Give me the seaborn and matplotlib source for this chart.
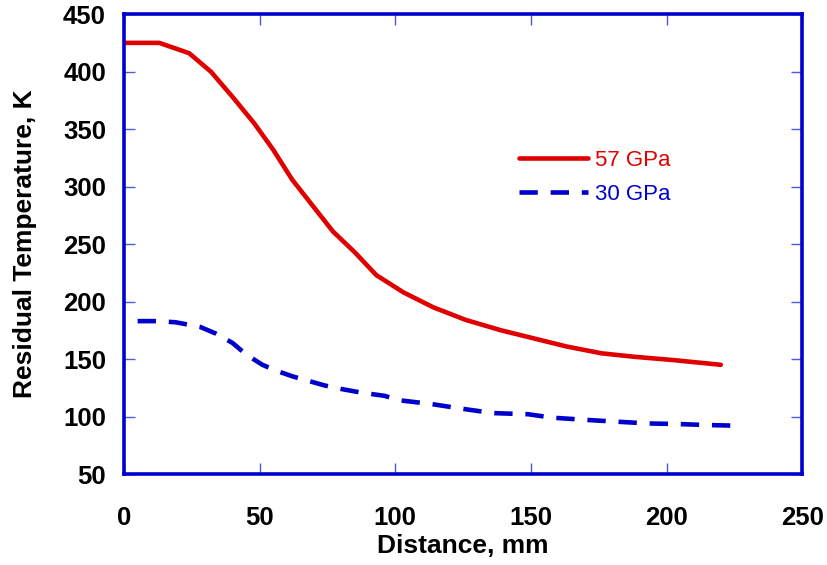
import matplotlib
matplotlib.use("Agg")
import matplotlib.pyplot as plt
import seaborn as sns
import pandas as pd
from matplotlib.lines import Line2D

# Data
dist_57 = [0, 13, 24, 32, 40, 48, 55, 62, 70, 77, 85, 93, 103, 114, 126, 139, 151, 163, 176, 188, 203, 220]
temp_57 = [425, 425, 416, 400, 378, 355, 332, 306, 282, 261, 243, 223, 208, 195, 184, 175, 168, 161, 155, 152, 149, 145]

dist_30 = [5, 12, 19, 28, 34, 40, 45, 51, 56, 62, 68, 74, 80, 87, 96, 102, 113, 124, 136, 149, 158, 171, 182, 193, 204, 215, 227]
temp_30 = [183, 183, 182, 178, 172, 164, 154, 145, 140, 135, 131, 127, 124, 121, 118, 114, 111, 107, 103, 102, 99, 97, 95.5, 94, 93.5, 92.6, 92]

labels = ["57 GPa", "30 GPa"]
xticks = [0, 50, 100, 150, 200, 250]
yticks = [50, 100, 150, 200, 250, 300, 350, 400, 450]

df = pd.concat([
    pd.DataFrame({"Distance": dist_57, "Temp": temp_57, "Series": labels[0]}),
    pd.DataFrame({"Distance": dist_30, "Temp": temp_30, "Series": labels[1]}),
], ignore_index=True)

sns.set_style("white")
plt.rcParams["font.family"] = ["Liberation Sans", "DejaVu Sans"]

fig = plt.figure(figsize=(8.27, 5.65), dpi=100)
ax = fig.add_axes([0.150, 0.161, 0.820, 0.814])

red = "#E00000"
blue = "#0000CC"
sns.lineplot(data=df, x="Distance", y="Temp", hue="Series", style="Series",
             palette={labels[0]: red, labels[1]: blue},
             dashes={labels[0]: "", labels[1]: (4.0, 2.8)},
             linewidth=3.3, ax=ax, legend=False, sort=False)

ax.set_xlim(0, 250)
ax.set_ylim(50, 450)
ax.set_xticks(xticks)
ax.set_yticks(yticks)
ax.set_xticklabels([str(t) for t in xticks], fontsize=18.5, fontweight="bold", color="black")
ax.set_yticklabels([str(t) for t in yticks], fontsize=18.5, fontweight="bold", color="black")
ax.tick_params(direction="in", length=8, width=1.0, color="#5555DD",
               top=True, right=True, bottom=True, left=True)
ax.tick_params(axis="x", pad=23)
ax.tick_params(axis="y", pad=13)
for s in ax.spines.values():
    s.set_color(blue)
    s.set_linewidth(2.6)
    s.set_visible(True)

ax.set_xlabel("Distance, mm", fontsize=19, fontweight="bold", labelpad=3, color="black")
ax.set_ylabel("Residual Temperature, K", fontsize=19, fontweight="bold", labelpad=19, color="black")

handles = [Line2D([], [], color=red, lw=3.3),
           Line2D([], [], color=blue, lw=3.3, dashes=(4.0, 2.8))]
leg = ax.legend(handles, labels, loc="upper left", bbox_to_anchor=(0.5826, 0.704),
                frameon=False, fontsize=16, handlelength=3.1, handletextpad=0.3,
                labelspacing=0.58, borderpad=0, borderaxespad=0, labelcolor=[red, blue])

fig.savefig("out.png", dpi=100)
